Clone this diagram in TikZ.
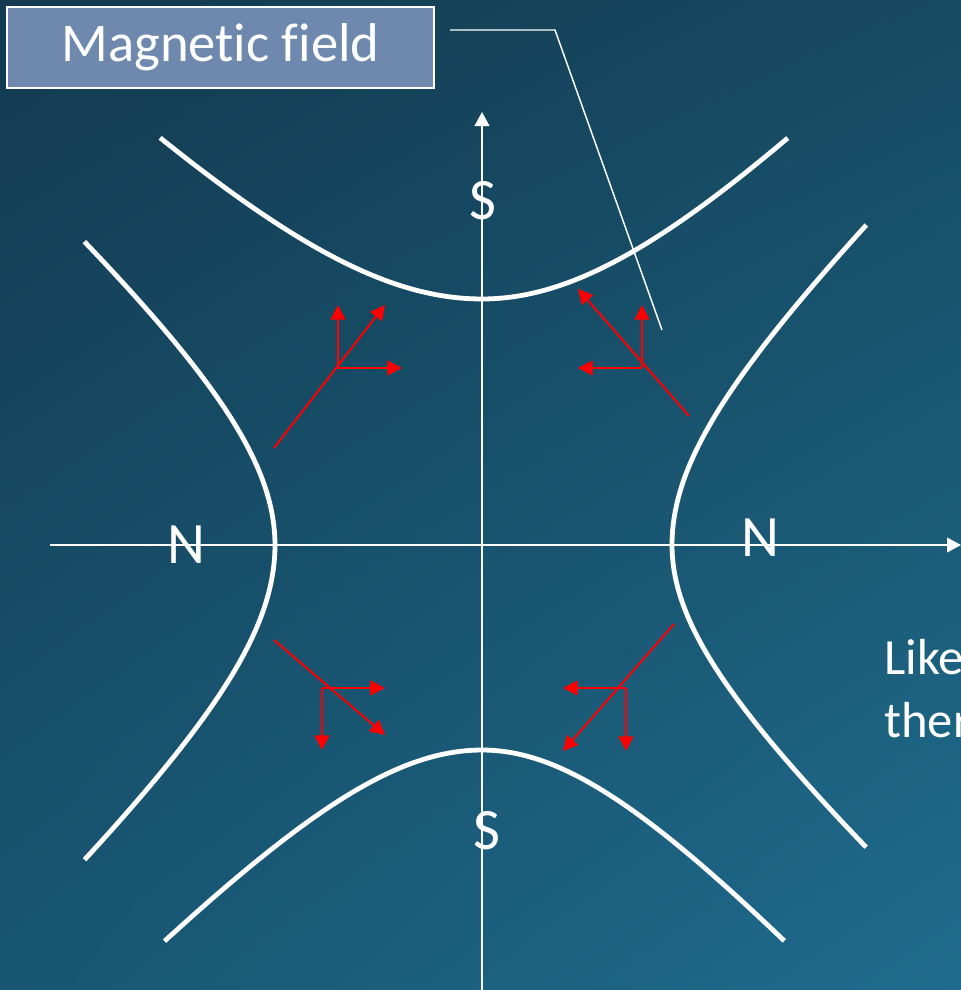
\documentclass[tikz,border=0pt]{standalone}
\usepackage{fontspec}
\setmainfont[Ligatures=NoCommon]{Carlito}
\usetikzlibrary{arrows.meta,shadings}
\definecolor{bgTL}{RGB}{19,58,80}
\definecolor{bgTR}{RGB}{22,74,98}
\definecolor{bgBL}{RGB}{24,86,114}
\definecolor{bgBR}{RGB}{31,108,142}
\definecolor{boxblue}{RGB}{111,137,174}
\definecolor{arrred}{RGB}{255,0,0}
\begin{document}
\begin{tikzpicture}[x=0.75pt,y=-0.75pt,
  axisline/.style={draw=white,line width=1.4pt,-{Triangle[length=10.5pt,width=11pt]}},
  curve/.style={draw=white,line width=3.6pt,line cap=butt},
  redarr/.style={draw=arrred,line width=1.5pt,-{Triangle[length=11pt,width=11pt]}},
  leader/.style={draw=white,line width=1.1pt},
  pole/.style={text=white,font=\fontsize{44}{52}\selectfont,inner sep=0pt},
  sidetext/.style={text=white,font=\fontsize{38}{46}\selectfont,inner sep=0pt,anchor=base west},
  titlebox/.style={draw=white,line width=1.5pt,fill=boxblue,text=white,
    font=\fontsize{41}{49}\selectfont,minimum width=320pt,minimum height=60.75pt,inner sep=0pt}]
\useasboundingbox (0,0) rectangle (961,990);
\clip (0,0) rectangle (961,990);
\shade[upper left=bgTL,upper right=bgTR,lower left=bgBL,lower right=bgBR] (0,0) rectangle (961,990);

% axes
\coordinate (Ybot) at (482,990);
\coordinate (Ytop) at (482,112);
\coordinate (Xl) at (50,545);
\coordinate (Xr) at (961,545);
\draw[axisline] (Ybot) -- (Ytop);
\draw[axisline] (Xl) -- (Xr);

% hyperbolas (each drawn as two halves meeting at the vertex)
\draw[curve] plot[domain=-1.09:0,samples=50,variable=\t,smooth] ({482+244*sinh(\t)},{545-246*cosh(\t)})
  -- plot[domain=0:1.09,samples=50,variable=\t,smooth] ({482+232*sinh(\t)},{545-246*cosh(\t)});
\draw[curve] plot[domain=-1.277:0,samples=50,variable=\t,smooth] ({482+192*sinh(\t)},{545+205*cosh(\t)})
  -- plot[domain=0:1.277,samples=50,variable=\t,smooth] ({482+183*sinh(\t)},{545+205*cosh(\t)});
\draw[curve] plot[domain=-1.27:0,samples=50,variable=\t,smooth] ({482-207*cosh(\t)},{545+185*sinh(\t)})
  -- plot[domain=0:1.27,samples=50,variable=\t,smooth] ({482-207*cosh(\t)},{545+192*sinh(\t)});
\draw[curve] plot[domain=-1.33:0,samples=50,variable=\t,smooth] ({482+190*cosh(\t)},{545+182*sinh(\t)})
  -- plot[domain=0:1.33,samples=50,variable=\t,smooth] ({482+190*cosh(\t)},{545+172*sinh(\t)});

% red arrows upper left
\coordinate (ulO) at (338,368);
\coordinate (ulU) at (338,305);
\coordinate (ulR) at (402,368);
\coordinate (ulD0) at (274,448);
\coordinate (ulD1) at (385,305);
\draw[redarr] (ulO) -- (ulU);
\draw[redarr] (ulO) -- (ulR);
\draw[redarr] (ulD0) -- (ulD1);

% upper right
\coordinate (urO) at (642,368);
\coordinate (urU) at (642,305);
\coordinate (urL) at (578,368);
\coordinate (urD0) at (689,416);
\coordinate (urD1) at (578,289);
\draw[redarr] (urO) -- (urU);
\draw[redarr] (urO) -- (urL);
\draw[redarr] (urD0) -- (urD1);

% lower left
\coordinate (llO) at (322,688);
\coordinate (llR) at (385,688);
\coordinate (llD) at (322,750);
\coordinate (llD0) at (274,640);
\coordinate (llD1) at (385,735);
\draw[redarr] (llO) -- (llR);
\draw[redarr] (llO) -- (llD);
\draw[redarr] (llD0) -- (llD1);

% lower right
\coordinate (lrO) at (626,688);
\coordinate (lrL) at (563,688);
\coordinate (lrD) at (626,751);
\coordinate (lrD0) at (674,624);
\coordinate (lrD1) at (563,751);
\draw[redarr] (lrO) -- (lrL);
\draw[redarr] (lrO) -- (lrD);
\draw[redarr] (lrD0) -- (lrD1);

% pole labels
\node[pole] (Stop) at (483,201) {S};
\node[pole] (Sbot) at (487,831) {S};
\node[pole] (Nleft) at (186,545) {N};
\node[pole] (Nright) at (760,538) {N};

% title box and leader
\node[titlebox] (title) at (220.5,47.5) {Magnetic field};
\coordinate (L1) at (450,30);
\coordinate (L2) at (555,30);
\coordinate (L3) at (662,330);
\draw[leader] (L1) -- (L2) -- (L3);

% side text (cut at right edge, as in the reference)
\node[sidetext] (like) at (884,674) {Like};
\node[sidetext] (ther) at (884,737) {ther};
\end{tikzpicture}
\end{document}
